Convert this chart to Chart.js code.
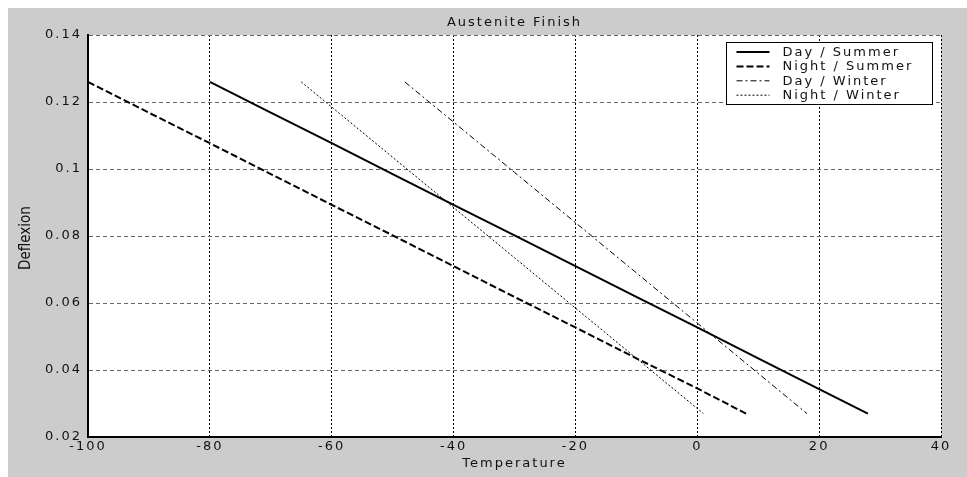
<!DOCTYPE html>
<html>
<head>
<meta charset="utf-8">
<title>Austenite Finish</title>
<script src="https://cdn.jsdelivr.net/npm/chart.js@4/dist/chart.umd.min.js"></script>
<style>
  html, body { margin: 0; padding: 0; background: #fff; }
  #wrap { width: 967px; height: 477px; }
</style>
</head>
<body>
<div id="wrap"><canvas id="austenite" width="967" height="477"></canvas></div>
<script>
/* ----------------------------------------------------------
   DATA
---------------------------------------------------------- */
const seriesNames = ["Day / Summer", "Night / Summer", "Day / Winter", "Night / Winter"];

const daySummerX = [-80, -70, -60, -50, -40, -30, -20, -10, 0, 10, 20, 28];
const daySummerY = [0.126, 0.1168, 0.1077, 0.0985, 0.0893, 0.0802, 0.0710, 0.0618, 0.0527, 0.0435, 0.0343, 0.027];

const nightSummerX = [-100, -90, -80, -70, -60, -50, -40, -30, -20, -10, 0, 8];
const nightSummerY = [0.126, 0.1168, 0.1077, 0.0985, 0.0893, 0.0802, 0.0710, 0.0618, 0.0527, 0.0435, 0.0345, 0.027];

const dayWinterX = [-48, -40, -30, -20, -10, 0, 10, 18];
const dayWinterY = [0.126, 0.114, 0.099, 0.084, 0.069, 0.054, 0.039, 0.027];

const nightWinterX = [-65, -60, -50, -40, -30, -20, -10, 1];
const nightWinterY = [0.126, 0.1185, 0.1035, 0.0885, 0.0735, 0.0585, 0.0435, 0.027];

const xTicks = [-100, -80, -60, -40, -20, 0, 20, 40];
const yTicks = [0.02, 0.04, 0.06, 0.08, 0.1, 0.12, 0.14];
const yTickLabels = ["0.02", "0.04", "0.06", "0.08", "0.1", "0.12", "0.14"];

const chartTitle = "Austenite Finish";
const xTitle = "Temperature";
const yTitle = "Deflexion";

/* ----------------------------------------------------------
   HELPERS
---------------------------------------------------------- */
function toPoints(xs, ys) {
  return xs.map((x, i) => ({ x: x, y: ys[i] }));
}

const FONT = '"DejaVu Sans", "Liberation Sans", sans-serif';
const SPACING = "2px";   // old bitmap font look: wide letter spacing

/* gray figure + white axes box */
const figureBackground = {
  id: "figureBackground",
  beforeDraw(chart) {
    const { ctx, width, height, chartArea: a } = chart;
    ctx.letterSpacing = SPACING;
    ctx.save();
    ctx.fillStyle = "#ffffff";
    ctx.fillRect(0, 0, width, height);
    ctx.fillStyle = "#cccccc";
    ctx.fillRect(8, 8, width - 8, height - 8);
    ctx.fillStyle = "#ffffff";
    ctx.fillRect(a.left, a.top, a.right - a.left, a.bottom - a.top);
    ctx.restore();
  }
};

/* MATLAB style boxed legend + narrow y label */
const boxedLegend = {
  id: "boxedLegend",
  afterDraw(chart) {
    const { ctx, chartArea: a } = chart;
    const w = 206, h = 62;
    const left = Math.round(a.right - 9 - w) + 0.5;
    const top = Math.round(a.top + 7) + 0.5;
    ctx.save();
    ctx.letterSpacing = SPACING;
    ctx.fillStyle = "#ffffff";
    ctx.fillRect(left, top, w, h);
    ctx.strokeStyle = "#000000";
    ctx.lineWidth = 1;
    ctx.strokeRect(left, top, w, h);
    ctx.font = "13px " + FONT;
    ctx.textBaseline = "middle";
    chart.data.datasets.forEach((ds, i) => {
      const y = top + 9.5 + i * 14.4;
      ctx.setLineDash(ds.borderDash || []);
      ctx.lineWidth = ds.borderWidth;
      ctx.strokeStyle = ds.borderColor;
      ctx.beginPath();
      ctx.moveTo(left + 10, y);
      ctx.lineTo(left + 43, y);
      ctx.stroke();
      ctx.setLineDash([]);
      ctx.fillStyle = "#111111";
      ctx.fillText(ds.label, left + 56, y + 0.5);
    });

    // y axis label
    ctx.letterSpacing = "0px";
    ctx.translate(26, (a.top + a.bottom) / 2 + 2);
    ctx.rotate(-Math.PI / 2);
    ctx.font = '15px "Liberation Sans Narrow", "DejaVu Sans Condensed", sans-serif';
    ctx.textAlign = "center";
    ctx.textBaseline = "middle";
    ctx.fillStyle = "#111111";
    ctx.fillText(yTitle, 0, 0);
    ctx.restore();
  }
};

/* ----------------------------------------------------------
   CHART
---------------------------------------------------------- */
new Chart(document.getElementById("austenite"), {
  type: "scatter",
  data: {
    datasets: [
      {
        label: seriesNames[0],
        data: toPoints(daySummerX, daySummerY),
        borderColor: "#000000",
        borderWidth: 2,
        borderDash: []
      },
      {
        label: seriesNames[1],
        data: toPoints(nightSummerX, nightSummerY),
        borderColor: "#000000",
        borderWidth: 2,
        borderDash: [7, 3]
      },
      {
        label: seriesNames[2],
        data: toPoints(dayWinterX, dayWinterY),
        borderColor: "#000000",
        borderWidth: 1,
        borderDash: [6, 3, 2, 3]
      },
      {
        label: seriesNames[3],
        data: toPoints(nightWinterX, nightWinterY),
        borderColor: "#000000",
        borderWidth: 1,
        borderDash: [2, 2]
      }
    ]
  },
  options: {
    responsive: false,
    animation: false,
    showLine: true,
    elements: { point: { radius: 0, hoverRadius: 0 }, line: { tension: 0 } },
    layout: { padding: { left: 0, right: 26, top: 0, bottom: 0 } },
    plugins: {
      legend: { display: false },
      tooltip: { enabled: false }
    },
    scales: {
      x: {
        type: "linear",
        position: "bottom",
        min: -100,
        max: 40,
        afterBuildTicks: s => { s.ticks = xTicks.map(v => ({ value: v })); },
        afterFit: s => { s.height = 40; },
        ticks: {
          color: "#111111",
          padding: 2,
          maxRotation: 0,
          autoSkip: false,
          font: { family: FONT, size: 13 },
          callback: v => String(v)
        },
        grid: { color: "#000000", lineWidth: 1, drawTicks: false },
        border: { display: true, color: "#000000", width: 2, dash: [2, 2] },
        title: {
          display: true,
          text: xTitle,
          color: "#111111",
          font: { family: FONT, size: 13 },
          padding: { top: 0, bottom: 6 }
        }
      },
      x2: {
        type: "linear",
        position: "top",
        display: true,
        min: -100,
        max: 40,
        afterFit: s => { s.height = 35; },
        ticks: { display: false },
        grid: { display: false, drawTicks: false },
        border: { display: false },
        title: {
          display: true,
          text: chartTitle,
          color: "#111111",
          font: { family: FONT, size: 13 },
          padding: { top: 15, bottom: 0 }
        }
      },
      y: {
        type: "linear",
        position: "left",
        min: 0.02,
        max: 0.14,
        afterBuildTicks: s => { s.ticks = yTicks.map(v => ({ value: v })); },
        afterFit: s => { s.width = 88; },
        ticks: {
          color: "#111111",
          padding: 6,
          autoSkip: false,
          font: { family: FONT, size: 13 },
          callback: (v, i) => yTickLabels[i]
        },
        grid: { color: "#666666", lineWidth: 1, drawTicks: false },
        border: { display: true, color: "#000000", width: 2, dash: [4, 3] },
        title: { display: false }
      }
    }
  },
  plugins: [figureBackground, boxedLegend]
});
</script>
</body>
</html>
